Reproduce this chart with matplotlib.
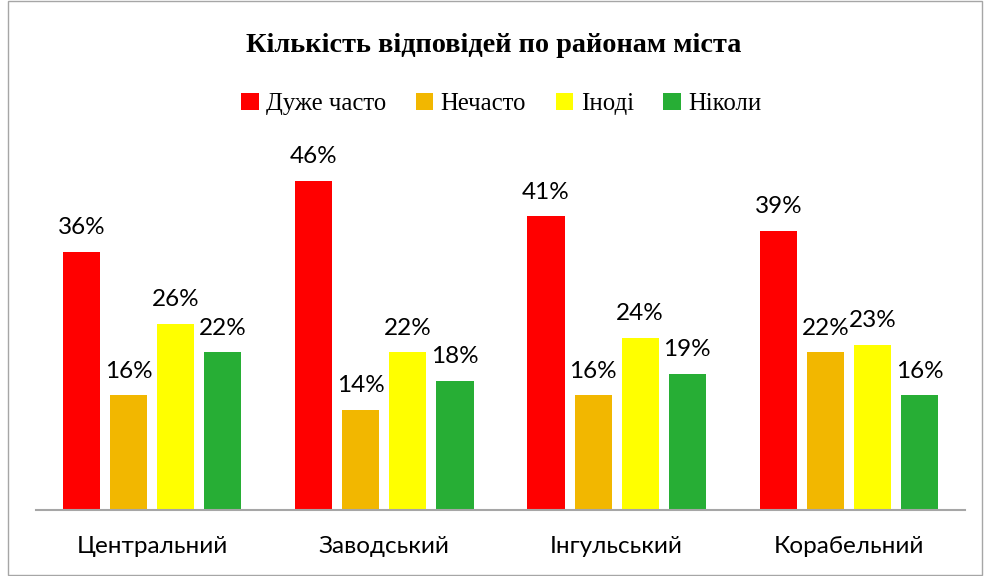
import matplotlib
matplotlib.use("Agg")
import matplotlib.pyplot as plt
import numpy as np
from matplotlib.patches import Rectangle

# Дані з діаграми
districts = ["Центральний", "Заводський", "Інгульський", "Корабельний"]
series_names = ["Дуже часто", "Нечасто", "Іноді", "Ніколи"]
very_often = [36, 46, 41, 39]
rarely = [16, 14, 16, 22]
sometimes = [26, 22, 24, 23]
never = [22, 18, 19, 16]
colors = ["#FF0000", "#F2B700", "#FFFF00", "#27AE35"]

series = [very_often, rarely, sometimes, never]

fig = plt.figure(figsize=(9.87, 5.76), dpi=100)
ax = fig.add_axes([36 / 987, 66 / 576, 929 / 987, 358 / 576])

x = np.arange(len(districts))
bar_w = 0.16
step = 0.2026
offsets = (np.arange(len(series)) - 1.5) * step

for vals, name, col, off in zip(series, series_names, colors, offsets):
    bars = ax.bar(x + off, vals, width=bar_w, color=col, label=name, zorder=2)
    for b, v in zip(bars, vals):
        ax.annotate(
            "%d%%" % v,
            (b.get_x() + b.get_width() / 2, b.get_height()),
            xytext=(0, 10),
            textcoords="offset points",
            ha="center",
            va="bottom",
            fontsize=17.5,
            family="Lato",
        )

ax.set_xlim(-0.5, len(districts) - 0.5)
ax.set_ylim(0, 50)
ax.set_yticks([])
ax.set_xticks(x)
ax.set_xticklabels(districts, fontsize=17.5, family="Lato")
ax.tick_params(axis="x", length=0, pad=19)
for s in ["top", "left", "right"]:
    ax.spines[s].set_visible(False)
ax.spines["bottom"].set_color("#A6A6A6")
ax.spines["bottom"].set_linewidth(1.5)

fig.text(
    0.5,
    1 - 46 / 576,
    "Кількість відповідей по районам міста",
    ha="center",
    va="center",
    fontsize=20.3,
    fontweight="bold",
    family="Liberation Serif",
)

handles, labels = ax.get_legend_handles_labels()
fig.legend(
    handles,
    labels,
    loc="center",
    bbox_to_anchor=(0.508, 1 - 104 / 576),
    ncol=4,
    frameon=False,
    prop={"family": "Liberation Serif", "size": 17.8},
    handlelength=0.7,
    handleheight=0.7,
    handletextpad=0.3,
    columnspacing=1.2,
)

# рамка навколо діаграми
fig.patches.append(
    Rectangle(
        (8 / 987, 1 / 576),
        974 / 987,
        574 / 576,
        transform=fig.transFigure,
        fill=False,
        edgecolor="#A6A6A6",
        linewidth=1,
    )
)

fig.savefig("out.png", dpi=100)
